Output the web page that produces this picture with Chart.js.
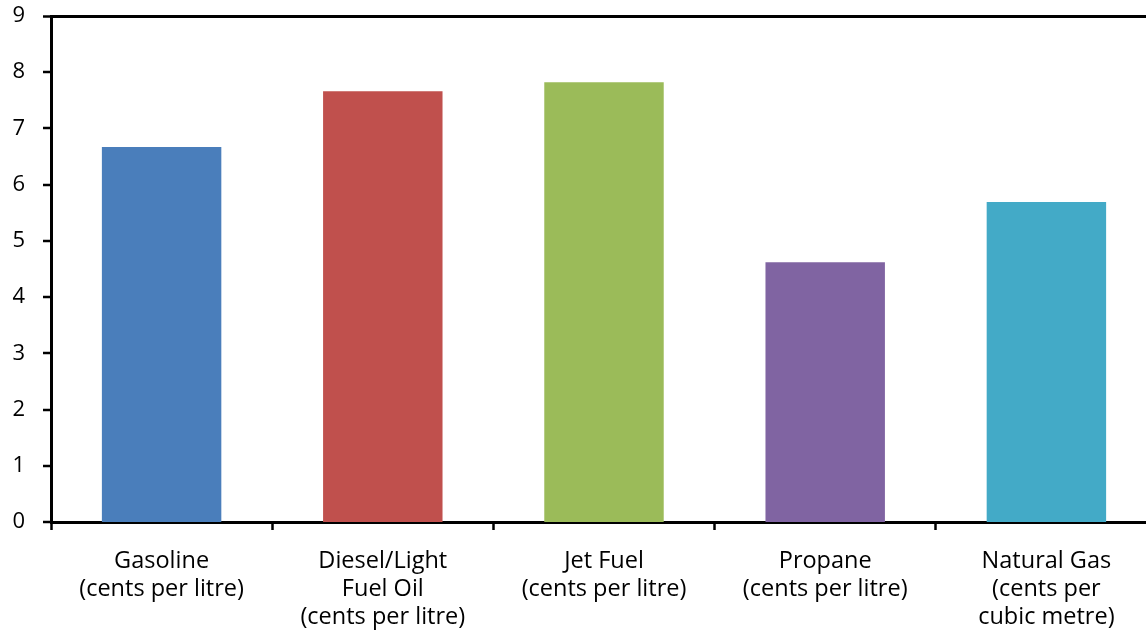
<!DOCTYPE html>
<html>
<head>
<meta charset="utf-8">
<script src="https://cdn.jsdelivr.net/npm/chart.js@4"></script>
<style>
  html, body { margin: 0; padding: 0; background: #fff; overflow: hidden; }
  #wrap { width: 1160px; height: 632px; position: relative; }
</style>
</head>
<body>
<div id="wrap"><canvas id="c" width="1160" height="632"></canvas></div>
<script>
const categories = [
  ["Gasoline", "(cents per litre)"],
  ["Diesel/Light", "Fuel Oil", "(cents per litre)"],
  ["Jet Fuel", "(cents per litre)"],
  ["Propane", "(cents per litre)"],
  ["Natural Gas", "(cents per", "cubic metre)"]
];
const values = [6.67, 7.66, 7.82, 4.62, 5.69];
const barColors = ["#4A7EBB", "#C0504D", "#9BBB59", "#8064A2", "#43AAC7"];
const yTicks = [0, 1, 2, 3, 4, 5, 6, 7, 8, 9];

const FONT = "'Open Sans', sans-serif";

new Chart(document.getElementById('c'), {
  type: 'bar',
  data: {
    labels: categories,
    datasets: [{
      data: values,
      backgroundColor: barColors,
      borderWidth: 0,
      categoryPercentage: 1.0,
      barPercentage: 0.54
    }]
  },
  options: {
    responsive: false,
    animation: false,
    devicePixelRatio: 1,
    layout: { padding: { top: 16, right: 3, left: 0, bottom: 0 } },
    plugins: { legend: { display: false }, tooltip: { enabled: false } },
    scales: {
      x: {
        offset: true,
        grid: {
          offset: true,
          drawOnChartArea: false,
          drawTicks: true,
          tickLength: 8,
          tickColor: '#000',
          tickWidth: 2.5,
          color: '#000'
        },
        border: { display: true, color: '#000', width: 3 },
        ticks: {
          color: '#000',
          font: { family: FONT, size: 23.5, lineHeight: 1.2 },
          padding: 17,
          maxRotation: 0,
          autoSkip: false
        },
        afterFit: s => { s.height = 110; s.paddingLeft = 0; s.paddingRight = 0; }
      },
      y: {
        min: 0,
        max: 9,
        afterBuildTicks: s => { s.ticks = yTicks.map(v => ({ value: v })); },
        grid: {
          drawTicks: true,
          tickLength: 8,
          tickWidth: 2.5,
          tickColor: '#000',
          lineWidth: ctx => (ctx.tick && ctx.tick.value === 9 ? 3 : 0),
          color: ctx => (ctx.tick && ctx.tick.value === 9 ? '#000' : 'rgba(0,0,0,0)')
        },
        border: { display: true, color: '#000', width: 3 },
        ticks: {
          color: '#000',
          font: { family: FONT, size: 22 },
          padding: 18
        },
        afterFit: s => { s.width = 51; s.paddingTop = 0; s.paddingBottom = 0; }
      }
    }
  }
});
</script>
</body>
</html>
